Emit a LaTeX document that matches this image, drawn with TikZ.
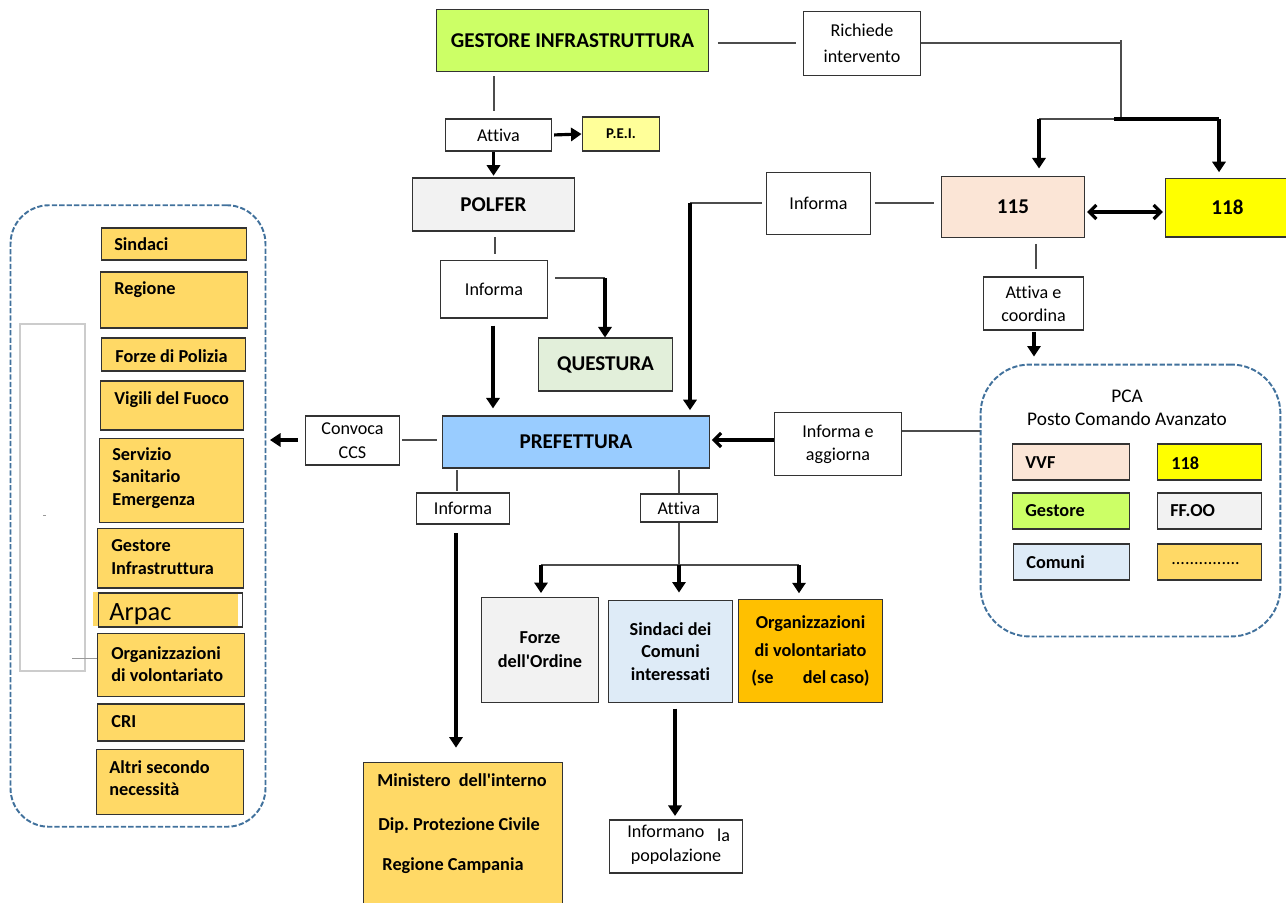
\documentclass[tikz,border=0pt]{standalone}
\usepackage{fontspec}
\setmainfont{Carlito}[Ligatures={NoCommon}]
\frenchspacing
\usetikzlibrary{arrows.meta,calc}
\definecolor{limeA}{HTML}{CCFF66}
\definecolor{peiY}{HTML}{FFFF99}
\definecolor{grayA}{HTML}{F2F2F2}
\definecolor{qgreen}{HTML}{E2EFDA}
\definecolor{peach}{HTML}{FBE5D6}
\definecolor{yelA}{HTML}{FFFF00}
\definecolor{prefblue}{HTML}{99CCFF}
\definecolor{paleblue}{HTML}{DEEBF7}
\definecolor{goldA}{HTML}{FFD966}
\definecolor{orangeA}{HTML}{FFC000}
\definecolor{panelblue}{HTML}{41719C}
\newcommand\fN{\fontsize{10.3}{13}\selectfont}
\newcommand\fB{\fontsize{10.4}{12.8}\selectfont\bfseries}
\newcommand\fH{\fontsize{12}{14}\selectfont\bfseries}
\newcommand{\mybox}[7]{\node[#6,minimum width={(#4-#2)*0.56693pt},minimum height={(#5-#3)*0.56693pt}] (#1) at ({(#2+#4)/2},{(#3+#5)/2}) {#7};}
\tikzset{
  box/.style={draw=black!80,line width=0.7pt,inner sep=0pt,align=center,font=\fN},
  panel/.style={draw=panelblue,line width=1.1pt,dash pattern=on 3pt off 1.2pt,inner sep=0pt},
  tb/.style={inner sep=0pt,align=left,font=\fB},
  ln/.style={draw=black!70,line width=0.6pt},
  thk/.style={line width=1.8pt},
  arr/.style={line width=1.8pt,-{Triangle[width=7.5pt,length=6pt]}},
  barb/.style={line width=1.8pt,-{Straight Barb[width=8pt,length=4pt]}},
  dbl/.style={line width=1.8pt,{Straight Barb[width=8pt,length=4pt]}-{Straight Barb[width=8pt,length=4pt]}},
}
\begin{document}
\begin{tikzpicture}[x=0.02cm,y=-0.02cm]
\useasboundingbox (0,0) rectangle (1286,903);
% ---------- top ----------
\mybox{gestore}{436}{9}{709}{72}{box,fill=limeA,font=\fH}{GESTORE INFRASTRUTTURA}
\mybox{richiede}{803}{11}{921}{76}{box,font=\fontsize{10.3}{14.7}\selectfont}{Richiede\\intervento}
\mybox{attivaA}{445}{119}{552}{151}{box}{Attiva}
\mybox{pei}{582}{117}{660}{151}{box,fill=peiY,font=\fontsize{8.5}{9}\selectfont\bfseries}{P.E.I.}
\mybox{polfer}{412}{178}{575}{231}{box,fill=grayA,font=\fH}{POLFER}
\mybox{infA}{440}{260}{548}{318}{box}{Informa}
\mybox{questura}{538}{338}{673}{391}{box,fill=qgreen,font=\fH}{QUESTURA}
\mybox{infB}{766}{172}{871}{235}{box}{Informa}
\mybox{n115}{941}{176}{1085}{238}{box,fill=peach,font=\fH}{115}
\mybox{n118}{1165}{178}{1290}{237}{box,fill=yelA,font=\fH}{118}
\mybox{attB}{983}{277}{1084}{330}{box}{Attiva e\\coordina}
% ---------- PCA ----------
\mybox{pca}{980}{364}{1281}{637}{panel,rounded corners=28pt}{}
\node[inner sep=0pt,align=center,font=\fontsize{11}{13}\selectfont] (pcat) at (1127,408) {PCA\\Posto Comando Avanzato};
\mybox{pvvf}{1012}{444}{1130}{480}{box,fill=peach}{}
\mybox{p118}{1157}{444}{1262}{480}{box,fill=yelA}{}
\mybox{pgest}{1012}{493}{1130}{529}{box,fill=limeA}{}
\mybox{pffoo}{1157}{493}{1262}{529}{box,fill=grayA}{}
\mybox{pcom}{1013}{544}{1130}{580}{box,fill=paleblue}{}
\mybox{pdots}{1157}{544}{1262}{580}{box,fill=goldA}{}
\node[tb,anchor=west] (tvvf) at (1025,463) {VVF};
\node[tb,anchor=west] (t118) at (1171,463) {118};
\node[tb,anchor=west] (tgest) at (1025,511) {Gestore};
\node[tb,anchor=west] (tffoo) at (1170,511) {FF.OO};
\node[tb,anchor=west] (tcom) at (1026,562) {Comuni};
\node[tb,anchor=west,font=\fN] (tdots) at (1171,564) {...............};
% ---------- middle ----------
\mybox{infC}{774}{412}{902}{476}{box}{Informa e\\aggiorna}
\mybox{pref}{442}{416}{710}{468}{box,fill=prefblue,font=\fH}{PREFETTURA}
\mybox{convoca}{305}{416}{400}{465}{box,font=\fontsize{10.3}{14}\selectfont}{Convoca\\CCS}
\mybox{infD}{416}{493}{510}{524}{box}{Informa}
\mybox{attC}{640}{494}{718}{522}{box}{Attiva}
\mybox{forze}{481}{597}{599}{703}{box,fill=grayA,font=\fontsize{10.4}{13.6}\selectfont\bfseries}{Forze\\dell\textquotesingle Ordine}
\mybox{sindb}{608}{600}{733}{703}{box,fill=paleblue,font=\fB}{Sindaci dei\\Comuni\\interessati}
\mybox{org}{738}{599}{883}{703}{box,fill=orangeA,font=\fontsize{10.4}{15.5}\selectfont\bfseries}{Organizzazioni\\di volontariato\\(se\hspace{1.6em}del caso)}
\mybox{minis}{363}{762}{563}{912}{box,fill=goldA}{}
\node[tb] (tmin1) at (462,780) {Ministero\ \ dell\textquotesingle interno};
\node[tb] (tmin2) at (459,826) {Dip. Protezione Civile};
\node[tb] (tmin3) at (453,866) {Regione Campania};
\mybox{infpop}{609}{820}{743}{873}{box}{}
\node[inner sep=0pt,align=left,font=\fontsize{10.3}{13.5}\selectfont,anchor=west] (tpop) at (627,845) {Informano\hspace{0.7em}\raisebox{-2pt}{la}\\\hspace{2pt}popolazione};
% ---------- left panel ----------
\mybox{leftpanel}{10}{204}{266}{828}{panel,rounded corners=22pt}{}
\draw[draw=black!20,line width=0.6pt] (20,324) rectangle (85,671);
\draw[draw=black!40,line width=0.4pt] (43,515) -- (46,515);
\mybox{lsind}{101}{228}{247}{260}{box,fill=goldA}{}
\mybox{lreg}{100}{272}{248}{328}{box,fill=goldA}{}
\mybox{lpol}{101}{338}{246}{371}{box,fill=goldA}{}
\mybox{lvvf}{100}{381}{244}{430}{box,fill=goldA}{}
\mybox{lsan}{99}{438}{244}{523}{box,fill=goldA}{}
\mybox{lgest}{97}{528}{244}{588}{box,fill=goldA}{}
\fill[goldA] (93,592) rectangle (238,626);
\mybox{larp}{98}{593}{243}{627}{box}{}
\mybox{lorg}{97}{633}{245}{697}{box,fill=goldA}{}
\mybox{lcri}{97}{704}{245}{741}{box,fill=goldA}{}
\mybox{lalt}{96}{749}{244}{815}{box,fill=goldA}{}
\draw[draw=black!40,line width=0.4pt] (72,658) -- (lorg.west |- 0,658);
\node[tb,anchor=west] (tsind) at (114,244) {Sindaci};
\node[tb,anchor=west] (treg) at (114,290) {Regione};
\node[tb,anchor=west] (tpol) at (115,356) {Forze di Polizia};
\node[tb,anchor=west] (tvig) at (114,400) {Vigili del Fuoco};
\node[tb,anchor=west] (tsan) at (112,478) {Servizio\\Sanitario\\Emergenza};
\node[tb,anchor=west] (tgi) at (111,557) {Gestore\\Infrastruttura};
\node[inner sep=0pt,anchor=west,font=\fontsize{15}{17}\selectfont] (tarp) at (109,614) {Arpac};
\node[tb,anchor=west] (torg) at (111,664) {Organizzazioni\\di volontariato};
\node[tb,anchor=west] (tcri) at (111,722) {CRI};
\node[tb,anchor=west] (talt) at (109,778) {Altri secondo\\necessità};
% ---------- connectors ----------
\coordinate (j1) at (1121,40);
\coordinate (j2) at (1121,119);
\coordinate (jl) at (1039,119);
\coordinate (jr) at (1219,119);
\draw[ln,shorten <=5pt,shorten >=4pt] (gestore.east |- 0,43) -- (richiede.west |- 0,43);
\draw[ln] (richiede.east |- 0,43) -- (j1 |- 0,43);
\draw[ln] (j1) -- (j2);
\draw[ln] (jl) -- (j2);
\draw[thk] (1114,119) -- (jr);
\draw[arr,shorten >=4pt] (jl) -- (jl |- n115.north);
\draw[arr,shorten >=3pt] (jr) -- (jr |- n118.north);
\draw[ln,shorten <=2pt,shorten >=4pt] (gestore.south -| 494,0) -- (attivaA.north -| 494,0);
\draw[arr,shorten <=1pt] (attivaA.east) -- (pei.west);
\draw[arr,shorten >=1pt] (attivaA.south -| polfer.north) -- (polfer.north);
\draw[ln,shorten <=3pt,shorten >=3pt] (polfer.south -| 495,0) -- (infA.north -| 495,0);
\coordinate (q1) at (605,278);
\draw[ln,shorten <=4pt] (infA.east |- q1) -- (q1);
\draw[arr] (q1) -- (q1 |- questura.north);
\draw[arr,shorten <=4pt,shorten >=4pt] (infA.south -| 493,0) -- (pref.north -| 493,0);
\coordinate (c690) at (690,203);
\draw[ln,shorten >=2pt] (c690) -- (infB.west |- c690);
\draw[arr,shorten >=3pt] (c690) -- (c690 |- pref.north);
\draw[ln,shorten <=2pt,shorten >=4pt] (infB.east |- c690) -- (n115.west |- c690);
\draw[dbl,shorten <=1pt,shorten >=1pt] (n115.east |- 0,212) -- (n118.west |- 0,212);
\draw[ln,shorten <=3pt,shorten >=4pt] (n115.south -| 1036,0) -- (attB.north -| 1036,0);
\draw[arr,shorten <=1pt,shorten >=4pt] (attB.south -| 1034,0) -- (pca.north -| 1034,0);
\draw[ln] (infC.east |- 0,431) -- (pca.west |- 0,431);
\draw[barb,shorten >=1pt] (infC.west |- 0,440) -- (pref.east |- 0,440);
\draw[ln,shorten <=3pt,shorten >=1pt] (pref.west |- 0,440) -- (convoca.east |- 0,440);
\draw[arr,shorten <=4pt,shorten >=2pt] (convoca.west |- 0,440) -- (leftpanel.east |- 0,440);
\draw[ln,shorten <=1pt,shorten >=1pt] (pref.south -| 457,0) -- (infD.north -| 457,0);
\draw[arr,shorten <=5pt,shorten >=8pt] (infD.south -| 456,0) -- (minis.north -| 456,0);
\draw[ln,shorten <=1pt] (pref.south -| attC.north) -- (attC.north);
\coordinate (b0) at (679,565);
\coordinate (bl) at (541,565);
\coordinate (br) at (799,565);
\draw[ln] (attC.south) -- (b0);
\draw[ln] (bl) -- (br);
\draw[arr,shorten >=2pt] (bl) -- (bl |- forze.north);
\draw[arr,shorten >=4pt] (b0) -- (b0 |- sindb.north);
\draw[arr,shorten >=3pt] (br) -- (br |- org.north);
\draw[arr,shorten <=3pt,shorten >=2pt] (sindb.south -| 675,0) -- (infpop.north -| 675,0);
\end{tikzpicture}
\end{document}
